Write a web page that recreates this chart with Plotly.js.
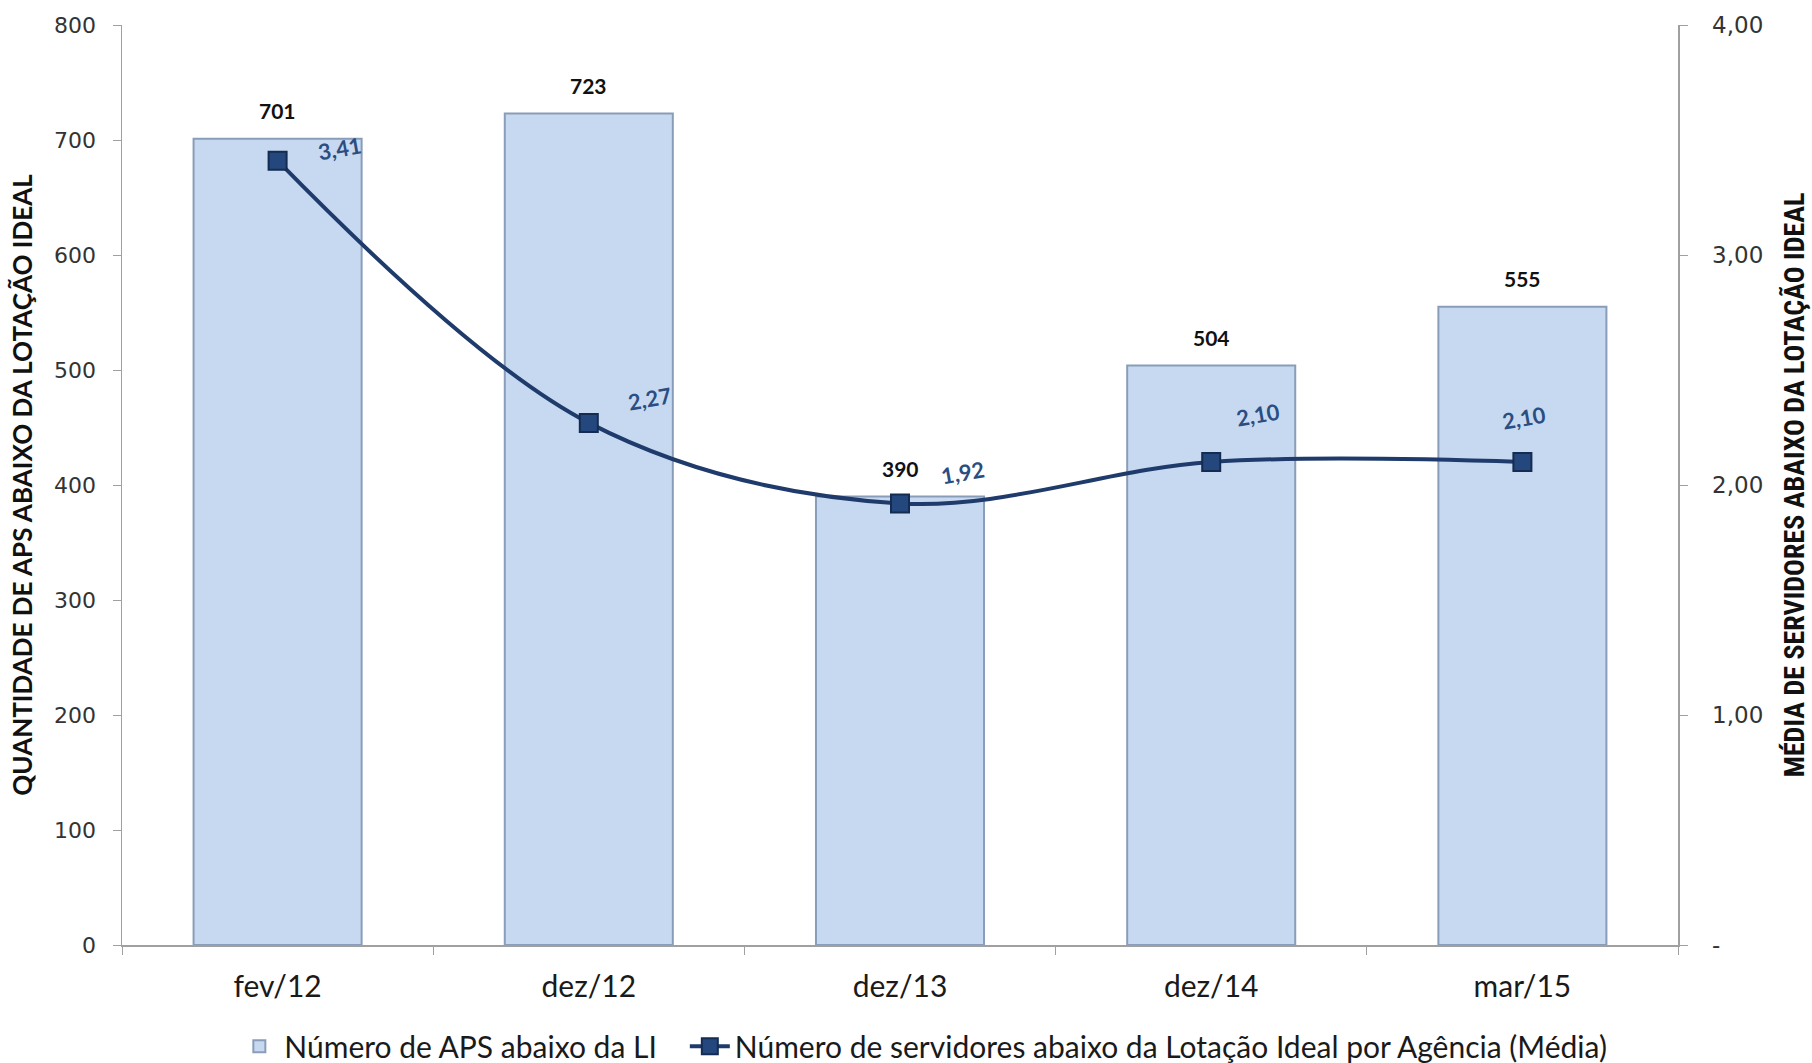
<!DOCTYPE html>
<html>
<head>
<meta charset="utf-8">
<script src="https://cdn.plot.ly/plotly-3.0.1.min.js"></script>
<style>
  html, body { margin: 0; padding: 0; background: #ffffff; }
  #chart { width: 1812px; height: 1063px; }
</style>
</head>
<body>
<div id="chart"></div>
<script>
// ---- data ----
const categories = ["fev/12", "dez/12", "dez/13", "dez/14", "mar/15"];
const apsAbaixoLI = [701, 723, 390, 504, 555];
const mediaServidores = [3.41, 2.27, 1.92, 2.10, 2.10];
const leftTickVals = [0, 100, 200, 300, 400, 500, 600, 700, 800];
const rightTickVals = [0, 1, 2, 3, 4];
const rightTickText = ["-", "1,00", "2,00", "3,00", "4,00"];
const barName = "Número de APS abaixo da LI";
const lineName = "Número de servidores abaixo da Lotação Ideal por Agência (Média)";
const leftTitle = "QUANTIDADE DE APS ABAIXO DA LOTAÇÃO IDEAL";
const rightTitle = "MÉDIA DE SERVIDORES ABAIXO DA LOTAÇÃO IDEAL";

// ---- style (label offsets in px, not data) ----
const lineLabelShift = [[62, 12], [61, 24], [62, 31], [47, 48], [2, 45]];

const fmt = v => v.toFixed(2).replace('.', ',');
const calib = "Lato, 'Noto Sans', sans-serif";
const legendPad = "\u00A0\u00A0\u00A0";

const barTrace = {
  type: 'bar',
  name: barName + legendPad,
  x: categories,
  y: apsAbaixoLI,
  yaxis: 'y',
  marker: { color: '#C6D9F1', line: { color: '#8A9DB8', width: 2 } },
  hoverinfo: 'x+y'
};

const lineTrace = {
  type: 'scatter',
  mode: 'lines+markers',
  name: lineName,
  x: categories,
  y: mediaServidores,
  yaxis: 'y2',
  line: { color: '#1F3B6B', width: 4, shape: 'spline', smoothing: 1 },
  marker: { symbol: 'square', size: 18, color: '#24477E', line: { color: '#152C52', width: 2 } }
};

const annotations = [];
categories.forEach((c, i) => {
  annotations.push({
    x: c, y: apsAbaixoLI[i], xref: 'x', yref: 'y',
    text: String(apsAbaixoLI[i]),
    showarrow: false, yanchor: 'middle', yshift: 28,
    font: { family: calib, size: 21, color: '#111111', weight: 'bold' }
  });
  annotations.push({
    x: c, y: mediaServidores[i], xref: 'x', yref: 'y2',
    text: fmt(mediaServidores[i]),
    showarrow: false, xanchor: 'center', yanchor: 'middle',
    xshift: lineLabelShift[i][0], yshift: lineLabelShift[i][1],
    textangle: -10,
    font: { family: calib, size: 22, color: '#2B4D80', weight: 'bold' }
  });
});

const layout = {
  width: 1812,
  height: 1063,
  paper_bgcolor: '#ffffff',
  plot_bgcolor: '#ffffff',
  separators: ',.',
  margin: { l: 122, r: 134, t: 25, b: 118, autoexpand: false },
  bargap: 0.46,
  showlegend: true,
  legend: {
    orientation: 'h',
    x: 0.515, xanchor: 'center',
    y: -0.11, yanchor: 'middle',
    font: { family: calib, size: 30, color: '#1a1a1a' },
    itemwidth: 40,
    traceorder: 'normal'
  },
  xaxis: {
    type: 'category',
    showline: true, linecolor: '#A0A0A0', linewidth: 1.5,
    ticks: 'outside', tickson: 'boundaries', ticklen: 8, tickcolor: '#A0A0A0',
    ticklabelstandoff: 14,
    tickfont: { family: calib, size: 30, color: '#1a1a1a' },
    showgrid: false, zeroline: false,
    automargin: false
  },
  yaxis: {
    range: [0, 800],
    tickvals: leftTickVals,
    showline: true, linecolor: '#A0A0A0', linewidth: 1.5,
    ticks: 'outside', ticklen: 8, tickcolor: '#A0A0A0',
    ticklabelstandoff: 12,
    tickfont: { family: "'DejaVu Sans', Verdana, sans-serif", size: 22, color: '#333333' },
    showgrid: false, zeroline: false,
    automargin: false,
    title: { text: leftTitle, standoff: 14,
      font: { family: calib, size: 26, color: '#111111', weight: 'bold' } }
  },
  yaxis2: {
    range: [0, 4],
    overlaying: 'y', side: 'right',
    tickvals: rightTickVals, ticktext: rightTickText,
    showline: true, linecolor: '#A0A0A0', linewidth: 1.5,
    ticks: 'outside', ticklen: 8, tickcolor: '#A0A0A0',
    ticklabelstandoff: 20,
    tickfont: { family: "'DejaVu Sans', Verdana, sans-serif", size: 23, color: '#333333' },
    showgrid: false, zeroline: false,
    automargin: false,
    title: { text: rightTitle, standoff: 22,
      font: { family: "'Liberation Sans Narrow', 'Roboto Condensed', 'Arial Narrow', Lato, sans-serif", size: 28, color: '#111111', weight: 'bold' } }
  },
  annotations: annotations
};

Plotly.newPlot('chart', [barTrace, lineTrace], layout, { displayModeBar: false, staticPlot: true });
</script>
</body>
</html>
